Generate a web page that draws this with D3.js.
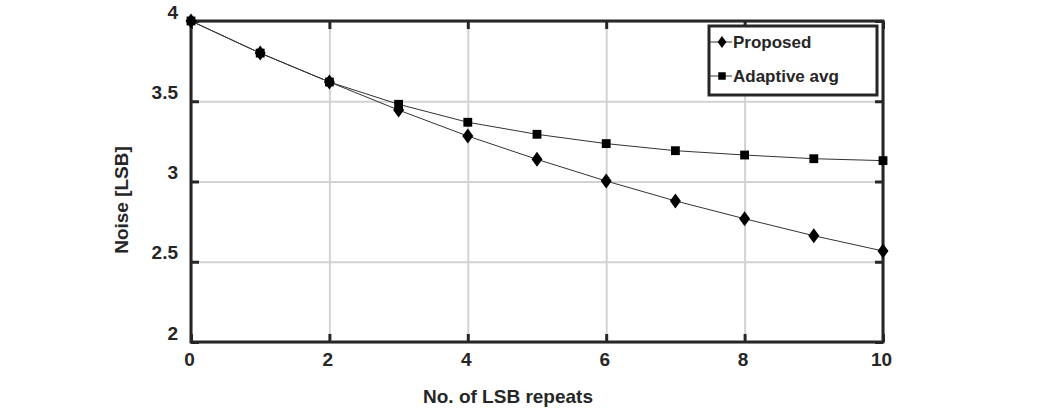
<!DOCTYPE html>
<html lang="en">
<head>
<meta charset="UTF-8">
<title>Noise vs LSB repeats</title>
<script src="https://d3js.org/d3.v7.min.js"></script>
<style>
  body { margin: 0; background: #fff; }
  text { font-family: "Liberation Sans", Arial, sans-serif; font-weight: bold; fill: #262626; }
</style>
</head>
<body>
<script>
// data
var repeats = [0, 1, 2, 3, 4, 5, 6, 7, 8, 9, 10];
var proposed = [4.00, 3.80, 3.62, 3.445, 3.283, 3.138, 3.003, 2.879, 2.768, 2.662, 2.567];
var adaptive = [4.00, 3.80, 3.62, 3.481, 3.369, 3.294, 3.236, 3.192, 3.165, 3.142, 3.130];
var xTicks = [0, 2, 4, 6, 8, 10];
var yTicks = [2, 2.5, 3, 3.5, 4];
var seriesNames = ["Proposed", "Adaptive avg"];

var margin = {top: 21, right: 159, bottom: 78, left: 191},
    width = 1042 - margin.left - margin.right,
    height = 420 - margin.top - margin.bottom;

var svg = d3.select("body").append("svg")
    .attr("width", 1042)
    .attr("height", 420)
  .append("g")
    .attr("transform", "translate(" + margin.left + "," + margin.top + ")");

var x = d3.scaleLinear().domain([0, 10]).range([0, width]);
var y = d3.scaleLinear().domain([2, 4]).range([height, 0]);
var plain = function(d) { return String(d); };

// grid
svg.append("g")
    .attr("class", "grid")
    .call(d3.axisBottom(x).tickValues(xTicks).tickSize(height).tickFormat(""))
    .call(function(g) { g.select(".domain").remove(); });
svg.append("g")
    .attr("class", "grid")
    .call(d3.axisLeft(y).tickValues(yTicks).tickSize(-width).tickFormat(""))
    .call(function(g) { g.select(".domain").remove(); });
svg.selectAll(".grid line").attr("stroke", "#d2d2d2").attr("stroke-width", 2);

// inward ticks on all four sides
var tickLen = 8;
var tickAxes = [
  {axis: d3.axisBottom(x).tickValues(xTicks), t: "translate(0," + height + ")"},
  {axis: d3.axisTop(x).tickValues(xTicks), t: "translate(0,0)"},
  {axis: d3.axisLeft(y).tickValues(yTicks), t: "translate(0,0)"},
  {axis: d3.axisRight(y).tickValues(yTicks), t: "translate(" + width + ",0)"}
];
tickAxes.forEach(function(a) {
  svg.append("g")
      .attr("class", "ticks")
      .attr("transform", a.t)
      .call(a.axis.tickSize(-tickLen).tickFormat(""))
      .call(function(g) { g.select(".domain").remove(); });
});
svg.selectAll(".ticks line").attr("stroke", "#262626").attr("stroke-width", 3);

// tick labels
var xLab = svg.append("g")
    .attr("transform", "translate(0," + height + ")")
    .call(d3.axisBottom(x).tickValues(xTicks).tickSize(0).tickPadding(11).tickFormat(plain));
xLab.select(".domain").remove();
xLab.selectAll("text")
    .attr("font-size", 19)
    .attr("font-family", null)
    .attr("dx", -2);

var yLab = svg.append("g")
    .call(d3.axisLeft(y).tickValues(yTicks).tickSize(0).tickPadding(13).tickFormat(plain));
yLab.select(".domain").remove();
yLab.selectAll("text")
    .attr("font-size", 19)
    .attr("font-family", null)
    .attr("dy", "-3px");

// frame
svg.append("rect")
    .attr("width", width)
    .attr("height", height)
    .attr("fill", "none")
    .attr("stroke", "#262626")
    .attr("stroke-width", 3);

// lines
var line = d3.line()
    .x(function(d, i) { return x(repeats[i]); })
    .y(function(d) { return y(d); });

[adaptive, proposed].forEach(function(s) {
  svg.append("path")
      .datum(s)
      .attr("fill", "none")
      .attr("stroke", "#333")
      .attr("stroke-width", 1)
      .attr("d", line);
});

var diamond = "M0,-7.5L5.5,0L0,7.5L-5.5,0Z";
var square = d3.symbol().type(d3.symbolSquare).size(78)();

svg.append("g").selectAll("path")
    .data(adaptive)
    .enter().append("path")
    .attr("d", square)
    .attr("fill", "#000")
    .attr("transform", function(d, i) { return "translate(" + x(repeats[i]) + "," + y(d) + ")"; });

svg.append("g").selectAll("path")
    .data(proposed)
    .enter().append("path")
    .attr("d", diamond)
    .attr("fill", "#000")
    .attr("transform", function(d, i) { return "translate(" + x(repeats[i]) + "," + y(d) + ")"; });

// axis titles
svg.append("text")
    .attr("x", 317)
    .attr("y", height + 61)
    .attr("text-anchor", "middle")
    .attr("font-size", 19)
    .text("No. of LSB repeats");

svg.append("text")
    .attr("transform", "translate(-63," + 179 + ") rotate(-90)")
    .attr("text-anchor", "middle")
    .attr("font-size", 19)
    .text("Noise [LSB]");

// legend
var legend = svg.append("g")
    .attr("transform", "translate(" + (709 - margin.left) + "," + (26 - margin.top) + ")");

legend.append("rect")
    .attr("width", 168)
    .attr("height", 69)
    .attr("fill", "#fff")
    .attr("stroke", "#262626")
    .attr("stroke-width", 3);

var items = legend.selectAll("g.item")
    .data(seriesNames)
    .enter().append("g")
    .attr("class", "item")
    .attr("transform", function(d, i) { return "translate(0," + (16 + i * 34) + ")"; });

items.append("line")
    .attr("x1", 0).attr("x2", 23)
    .attr("stroke", "#333").attr("stroke-width", 1);

items.append("path")
    .attr("d", function(d, i) { return i === 0 ? diamond : square; })
    .attr("transform", function(d, i) { return "translate(13,0)" + (i === 0 ? " scale(0.8)" : " scale(0.85)"); })
    .attr("fill", "#000");

items.append("text")
    .attr("x", 24)
    .attr("y", 6)
    .attr("font-size", 17)
    .text(function(d) { return d; });
</script>
</body>
</html>
